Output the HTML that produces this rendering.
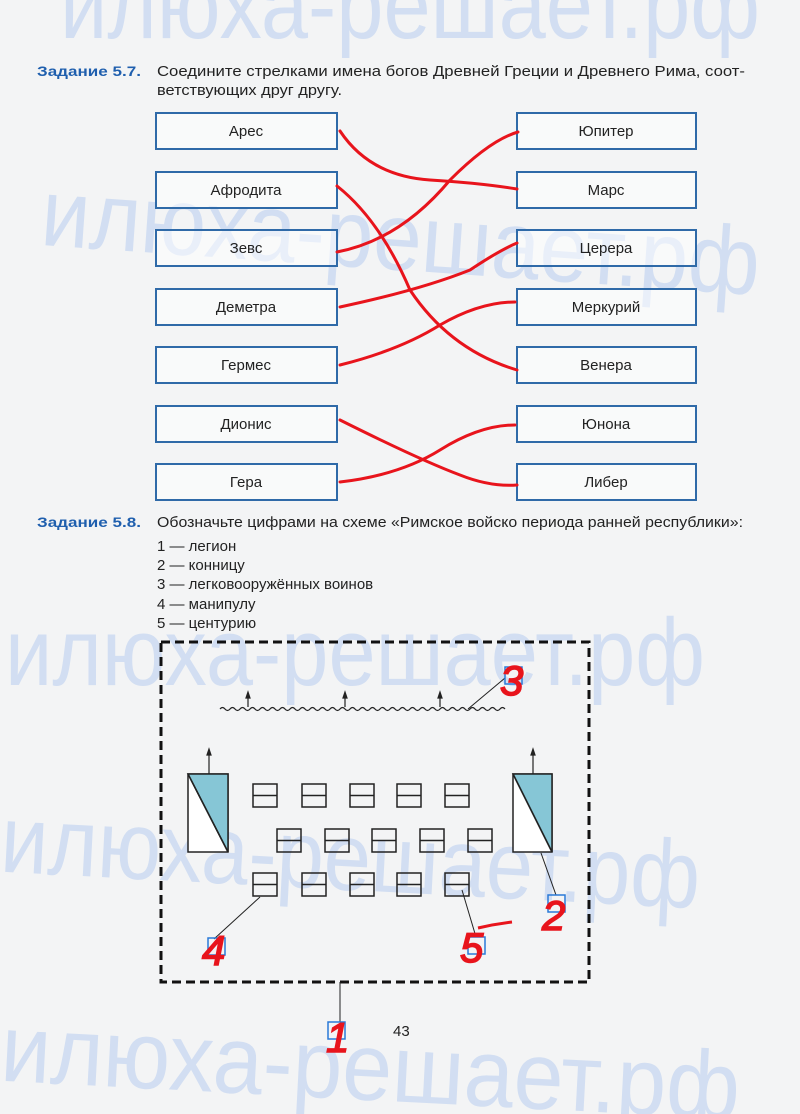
<!DOCTYPE html>
<html><head><meta charset="utf-8"><style>
html,body{margin:0;padding:0;background:#f3f4f5;}
svg{display:block}
text{font-family:"Liberation Sans",sans-serif;}
</style></head><body>
<svg width="800" height="1114" viewBox="0 0 800 1114" xmlns="http://www.w3.org/2000/svg">
<rect width="800" height="1114" fill="#f3f4f5"/>
<!-- watermarks -->
<g fill="#8fb2ec" fill-opacity="0.33" font-size="96">
<text x="60" y="38" textLength="700" lengthAdjust="spacingAndGlyphs">илюха-решает.рф</text>
<text x="40" y="270" textLength="720" lengthAdjust="spacingAndGlyphs" transform="rotate(4 400 250)">илюха-решает.рф</text>
<text x="5" y="685" textLength="700" lengthAdjust="spacingAndGlyphs">илюха-решает.рф</text>
<text x="0" y="890" textLength="700" lengthAdjust="spacingAndGlyphs" transform="rotate(3 350 870)">илюха-решает.рф</text>
<text x="0" y="1100" textLength="740" lengthAdjust="spacingAndGlyphs" transform="rotate(3 370 1080)">илюха-решает.рф</text>
</g>
<!-- headers -->
<g font-size="15" fill="#222">
<text x="37" y="76" fill="#1f5fae" font-weight="bold" font-size="14" textLength="104" lengthAdjust="spacingAndGlyphs">Задание 5.7.</text>
<text x="157" y="76" textLength="588" lengthAdjust="spacingAndGlyphs">Соедините стрелками имена богов Древней Греции и Древнего Рима, соот-</text>
<text x="157" y="95" textLength="185" lengthAdjust="spacingAndGlyphs">ветствующих друг другу.</text>
<text x="37" y="527" fill="#1f5fae" font-weight="bold" font-size="14" textLength="104" lengthAdjust="spacingAndGlyphs">Задание 5.8.</text>
<text x="157" y="527" textLength="586" lengthAdjust="spacingAndGlyphs">Обозначьте цифрами на схеме «Римское войско периода ранней республики»:</text>
<text x="157" y="551">1 — легион</text>
<text x="157" y="570">2 — конницу</text>
<text x="157" y="589">3 — легковооружённых воинов</text>
<text x="157" y="609">4 — манипулу</text>
<text x="157" y="628">5 — центурию</text>
<text x="393" y="1036">43</text>
</g>
<!-- boxes -->
<g fill="#fff" fill-opacity="0.5" stroke="#2f6aa8" stroke-width="2">
<rect x="156" y="113" width="181" height="36"/><rect x="156" y="172" width="181" height="36"/>
<rect x="156" y="230" width="181" height="36"/><rect x="156" y="289" width="181" height="36"/>
<rect x="156" y="347" width="181" height="36"/><rect x="156" y="406" width="181" height="36"/>
<rect x="156" y="464" width="181" height="36"/>
<rect x="517" y="113" width="179" height="36"/><rect x="517" y="172" width="179" height="36"/>
<rect x="517" y="230" width="179" height="36"/><rect x="517" y="289" width="179" height="36"/>
<rect x="517" y="347" width="179" height="36"/><rect x="517" y="406" width="179" height="36"/>
<rect x="517" y="464" width="179" height="36"/>
</g>
<g font-size="15" fill="#222" text-anchor="middle">
<text x="246" y="136">Арес</text><text x="246" y="195">Афродита</text><text x="246" y="253">Зевс</text>
<text x="246" y="312">Деметра</text><text x="246" y="370">Гермес</text><text x="246" y="429">Дионис</text>
<text x="246" y="487">Гера</text>
<text x="606" y="136">Юпитер</text><text x="606" y="195">Марс</text><text x="606" y="253">Церера</text>
<text x="606" y="312">Меркурий</text><text x="606" y="370">Венера</text><text x="606" y="429">Юнона</text>
<text x="606" y="487">Либер</text>
</g>
<!-- red lines -->
<g fill="none" stroke="#e8141c" stroke-width="3" stroke-linecap="round">
<path d="M340 131 Q370 176 430 180 Q480 183 517 189"/>
<path d="M337 252 Q400 240 450 180 Q490 140 518 132"/>
<path d="M337 186 Q380 220 410 290 Q450 350 517 370"/>
<path d="M340 307 Q420 290 470 270 Q500 250 517 243"/>
<path d="M340 365 Q400 350 440 325 Q480 302 515 302"/>
<path d="M340 420 Q420 460 460 475 Q490 487 517 485"/>
<path d="M340 482 Q400 475 440 450 Q480 425 515 425"/>
</g>
<!-- diagram -->
<rect x="161" y="642" width="428" height="340" fill="none" stroke="#111" stroke-width="3" stroke-dasharray="9,5"/>
<path d="M220 709 q2.5 -3 5 0 t5 0 t5 0 t5 0 t5 0 t5 0 t5 0 t5 0 t5 0 t5 0 t5 0 t5 0 t5 0 t5 0 t5 0 t5 0 t5 0 t5 0 t5 0 t5 0 t5 0 t5 0 t5 0 t5 0 t5 0 t5 0 t5 0 t5 0 t5 0 t5 0 t5 0 t5 0 t5 0 t5 0 t5 0 t5 0 t5 0 t5 0 t5 0 t5 0 t5 0 t5 0 t5 0 t5 0 t5 0 t5 0 t5 0 t5 0 t5 0 t5 0 t5 0 t5 0 t5 0 t5 0 t5 0 t5 0 t5 0" fill="none" stroke="#222" stroke-width="1.2"/>
<g stroke="#222" stroke-width="1.2" fill="#222">
<line x1="248" y1="707" x2="248" y2="697"/><path d="M246 698 L248 692 L250 698Z"/>
<line x1="345" y1="707" x2="345" y2="697"/><path d="M343 698 L345 692 L347 698Z"/>
<line x1="440" y1="707" x2="440" y2="697"/><path d="M438 698 L440 692 L442 698Z"/>
<line x1="209" y1="774" x2="209" y2="754"/><path d="M207 755 L209 749 L211 755Z"/>
<line x1="533" y1="774" x2="533" y2="754"/><path d="M531 755 L533 749 L535 755Z"/>
</g>
<g stroke="#222" stroke-width="1.5">
<rect x="188" y="774" width="40" height="78" fill="#fff"/><path d="M188 774 L228 774 L228 852Z" fill="#86c6d6"/><line x1="188" y1="774" x2="228" y2="852"/>
<rect x="513" y="774" width="39" height="78" fill="#fff"/><path d="M513 774 L552 774 L552 852Z" fill="#86c6d6"/><line x1="513" y1="774" x2="552" y2="852"/>
</g>
<g fill="none" stroke="#222" stroke-width="1.5">
<rect x="253" y="784" width="24" height="23"/><rect x="302" y="784" width="24" height="23"/><rect x="350" y="784" width="24" height="23"/><rect x="397" y="784" width="24" height="23"/><rect x="445" y="784" width="24" height="23"/>
<rect x="277" y="829" width="24" height="23"/><rect x="325" y="829" width="24" height="23"/><rect x="372" y="829" width="24" height="23"/><rect x="420" y="829" width="24" height="23"/><rect x="468" y="829" width="24" height="23"/>
<rect x="253" y="873" width="24" height="23"/><rect x="302" y="873" width="24" height="23"/><rect x="350" y="873" width="24" height="23"/><rect x="397" y="873" width="24" height="23"/><rect x="445" y="873" width="24" height="23"/>
<path d="M253 795.5h24M302 795.5h24M350 795.5h24M397 795.5h24M445 795.5h24M277 840.5h24M325 840.5h24M372 840.5h24M420 840.5h24M468 840.5h24M253 884.5h24M302 884.5h24M350 884.5h24M397 884.5h24M445 884.5h24"/>
</g>
<g stroke="#222" stroke-width="1">
<line x1="468" y1="709" x2="505" y2="678"/><line x1="541" y1="853" x2="556" y2="895"/>
<line x1="260" y1="897" x2="214" y2="939"/><line x1="462" y1="890" x2="476" y2="937"/>
<line x1="340" y1="982" x2="340" y2="1022"/>
</g>
<g fill="none" stroke="#2a7ad8" stroke-width="1.5">
<rect x="505" y="667" width="17" height="17"/><rect x="548" y="895" width="17" height="17"/>
<rect x="208" y="938" width="17" height="17"/><rect x="468" y="937" width="17" height="17"/>
<rect x="328" y="1022" width="17" height="17"/>
</g>
<g fill="#e8141c" stroke="#e8141c" stroke-width="1.5" font-style="italic" font-size="42">
<text x="500" y="695">3</text><text x="542" y="930">2</text><text x="202" y="965">4</text>
<text x="460" y="962">5</text><text x="326" y="1052">1</text>
</g>
<path d="M478 928 Q495 924 512 922" stroke="#e8141c" stroke-width="3" fill="none"/>
</svg>
</body></html>
